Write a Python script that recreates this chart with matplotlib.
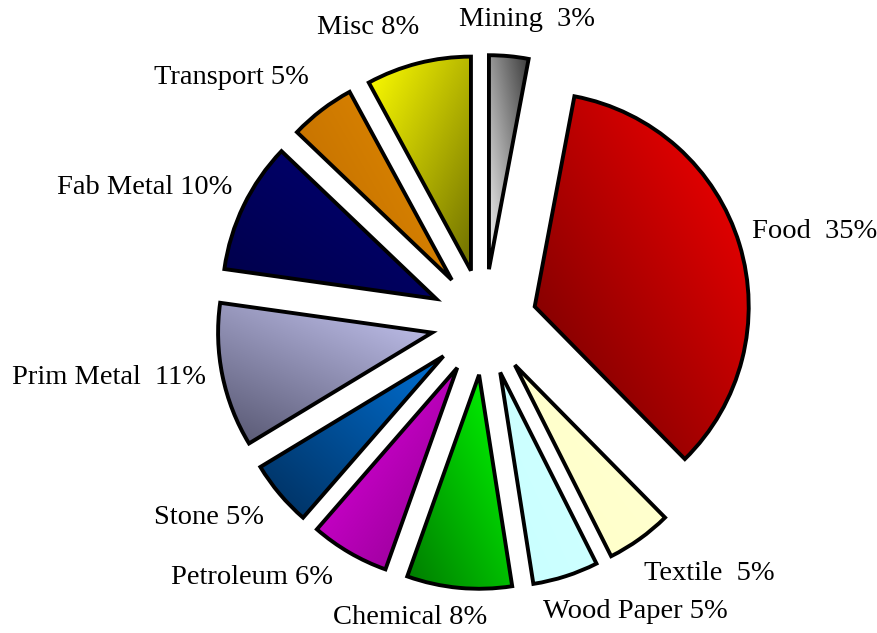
import numpy as np
import matplotlib
matplotlib.use('Agg')
import matplotlib.pyplot as plt
from matplotlib.colors import to_rgb

# data
sectors = ['Mining', 'Food', 'Textile', 'Wood Paper', 'Chemical', 'Petroleum',
           'Stone', 'Prim Metal', 'Fab Metal', 'Transport', 'Misc']
shares = [3, 35, 5, 5, 8, 6, 5, 11, 10, 5, 8]
labels = ['Mining  3%', 'Food  35%', 'Textile  5%', 'Wood Paper 5%', 'Chemical 8%',
          'Petroleum 6%', 'Stone 5%', 'Prim Metal  11%', 'Fab Metal 10%',
          'Transport 5%', 'Misc 8%']

# gradient colours (dark end, light end) and direction dark->light in degrees,
# measured in the wedge's own (normalised) bounding box
dark_cols = ['#3a3a3a', '#6a0000', '#ffffc8', '#c8ffff', '#007a00', '#8c008c',
             '#002e5c', '#55556f', '#000048', '#bc6a00', '#6e6e00']
light_cols = ['#f6f6f6', '#ff0000', '#ffffd2', '#d2ffff', '#00ff00', '#e600e6',
              '#0070d4', '#c8c8f5', '#000078', '#e48c00', '#ffff00']
grad_dir = [225, 45, 45, 45, 45, 135, 45, 55, 45, 35, 135]

# label anchor positions (image pixels, text centre)
label_pos = [(527, 20), (815, 232), (709, 573), (635, 612), (410, 618),
             (252, 578), (209, 517), (109, 378), (145, 188), (231, 78), (368, 28)]

W, H = 878, 633
fig = plt.figure(figsize=(W / 100, H / 100), dpi=100)
ax = fig.add_axes([0, 0, 1, 1])

cx, cy = 484, H - 322
radius = 214
explode = [53] * len(shares)

wedges, _ = ax.pie(shares, explode=explode, startangle=90, counterclock=False,
                   center=(cx, cy), radius=radius,
                   wedgeprops=dict(edgecolor='black', linewidth=2.8, joinstyle='miter'))

for i, w in enumerate(wedges):
    verts = w.get_path().vertices
    x0, y0 = verts.min(axis=0)
    x1, y1 = verts.max(axis=0)
    n = 200
    u = np.linspace(0, 1, n)
    v = np.linspace(1, 0, n)
    U, V = np.meshgrid(u, v)
    a = np.deg2rad(grad_dir[i])
    proj = U * np.cos(a) + V * np.sin(a)
    t = (proj - proj.min()) / (proj.max() - proj.min() + 1e-9)
    d = np.array(to_rgb(dark_cols[i]))
    l = np.array(to_rgb(light_cols[i]))
    img = d[None, None, :] + t[:, :, None] * (l - d)[None, None, :]
    im = ax.imshow(img, extent=(x0, x1, y0, y1), zorder=2, interpolation='bilinear',
                   aspect='auto')
    im.set_clip_path(w)
    w.set_facecolor('none')
    w.set_zorder(3)

for lab, (px, py) in zip(labels, label_pos):
    ax.text(px, H - py, lab, ha='center', va='center', fontsize=20.5,
            family='Liberation Serif', color='black')

ax.set_xlim(0, W)
ax.set_ylim(0, H)
ax.set_aspect('equal')
ax.axis('off')

fig.savefig('out.png', dpi=100, facecolor='white')
